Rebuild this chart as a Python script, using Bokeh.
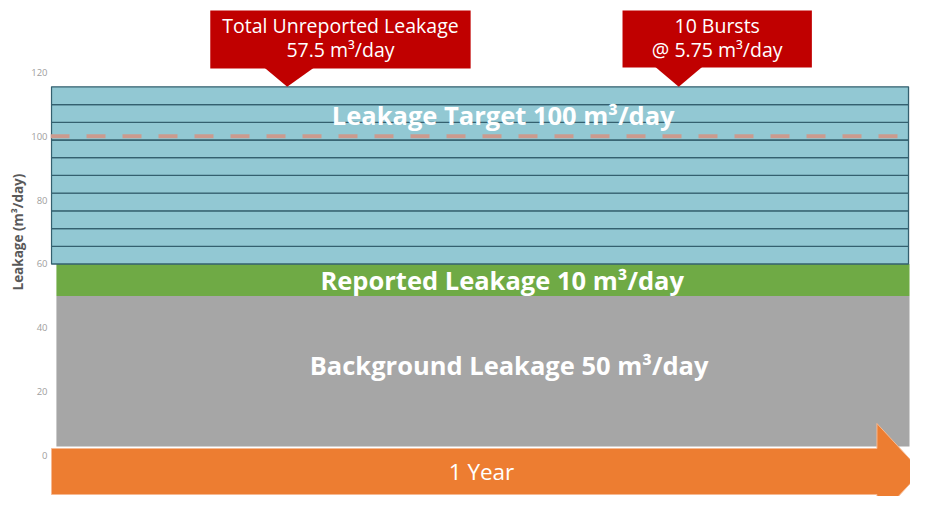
from bokeh.plotting import figure
from bokeh.models import Range1d, FixedTicker, Span, Title
from bokeh.core.properties import value
from bokeh.embed import file_html
from bokeh.resources import INLINE

# ---------------- data ----------------
background_leakage = 50.0          # m3/day (top of grey block)
reported_leakage = 10.0            # m3/day (green block)
burst_sizes = [5.55, 5.55, 5.55, 5.55, 5.55, 5.55, 5.55, 5.55, 5.55, 5.55]  # blue stripes
leakage_target = 100.0
y_ticks = [0, 20, 40, 60, 80, 100, 120]
block_labels = ["Background Leakage 50 m³/day", "Reported Leakage 10 m³/day",
                "Leakage Target 100 m³/day"]
callout_titles = ["Total Unreported Leakage", "10 Bursts"]
callout_values = ["57.5 m³/day", "@ 5.75 m³/day"]
period_label = "1 Year"
y_title = "Leakage (m³/day)"

# ---------------- layout ----------------
W, H, LEFT = 910, 496, 50
PX_X = 869.0      # px per year
PX_Y = 3.1917     # px per m3/day
IMG_X0, IMG_Y0 = 51.0, 455.0  # picture px of (year 0, value 0)


def xd(px):  # picture px -> year
    return (px - IMG_X0) / PX_X


def yd(py):  # picture px -> value
    return (IMG_Y0 - py) / PX_Y


FONT = "Open Sans"
BLUE, BLUE_LINE = "#92C8D3", "#34606F"
GREEN, GREY, ORANGE, RED = "#6FAA45", "#A6A6A6", "#ED7D31", "#C00000"

p = figure(width=W, height=H, output_backend="svg", toolbar_location=None,
           x_range=Range1d(xd(LEFT), xd(922)),
           y_range=Range1d(yd(H), yd(0)),
           min_border_left=LEFT, min_border_right=0, min_border_top=0,
           min_border_bottom=0, x_axis_location=None)
p.outline_line_color = None
p.xgrid.visible = False
p.ygrid.visible = False
p.background_fill_color = "white"
p.border_fill_color = "white"

ax = p.yaxis[0]
ax.ticker = FixedTicker(ticks=y_ticks)
ax.axis_line_color = None
ax.major_tick_line_color = None
ax.minor_tick_line_color = None
ax.major_tick_out = 0
ax.major_label_standoff = 3
ax.major_label_text_font = FONT
ax.major_label_text_font_size = "9.5px"
ax.major_label_text_color = "#A0A0A0"

p.add_layout(Title(text=y_title, align="left", offset=206, standoff=4,
                   text_font=FONT, text_font_style="bold", text_font_size="13.5px",
                   text_color="#595959"), "left")

# ---------------- blocks ----------------
base = yd(446)
inset_l, inset_r = xd(56), xd(921)
p.quad(left=[inset_l], right=[inset_r], bottom=[base], top=[background_leakage],
       fill_color=GREY, line_color=None)
reported_top = background_leakage + reported_leakage
p.quad(left=[inset_l], right=[inset_r], bottom=[background_leakage], top=[reported_top],
       fill_color=GREEN, line_color=None)

bottoms, tops = [], []
acc = reported_top
for s in burst_sizes:
    bottoms.append(acc)
    acc += s
    tops.append(acc)
unreported_top = acc
n = len(burst_sizes)
p.quad(left=[0.0] * n, right=[xd(920)] * n, bottom=bottoms, top=tops,
       fill_color=BLUE, line_color=BLUE_LINE, line_width=1.3)

p.add_layout(Span(location=leakage_target, dimension="width", line_color="#CB9A8E",
                  line_width=4, line_dash="19 17"))

# ---------------- arrow (1 year) ----------------
a_top, a_bot = yd(448), yd(494)
a_mid = (a_top + a_bot) / 2
h_half = yd(423) - a_mid
x_body = xd(888)
x_tip = xd(933)
p.patch(x=[0, x_body, x_body, x_tip, x_body, x_body, 0],
        y=[a_top, a_top, a_mid + h_half, a_mid, a_mid - h_half, a_bot, a_bot],
        fill_color=ORANGE, line_color="#F6B992", line_width=1)

# ---------------- block labels ----------------
p.text(x=[xd(515), xd(508), xd(509)],
       y=[yd(364), (background_leakage + reported_top) / 2, yd(114)],
       text=block_labels, text_color="white", text_font=value(FONT),
       text_font_style="bold", text_font_size="25.5px",
       text_align="center", text_baseline="middle")
p.text(x=[xd(487)], y=[a_mid], text=[period_label], text_color="white",
       text_font=value(FONT), text_font_size="22.5px",
       text_align="center", text_baseline="middle")

# ---------------- callouts ----------------
boxes = [(212, 476, 10, 68, 290, 267, 317), (630, 822, 10, 67, 687, 663, 711)]
for (l, r, t, b, tipx, bl, br), title, val in zip(boxes, callout_titles, callout_values):
    p.quad(left=[xd(l)], right=[xd(r)], top=[yd(t)], bottom=[yd(b)],
           fill_color=RED, line_color=None)
    p.patch(x=[xd(bl), xd(tipx), xd(br)], y=[yd(b) + 0.2, unreported_top, yd(b) + 0.2],
            fill_color=RED, line_color=None)
    cx = xd((l + r) / 2)
    p.text(x=[cx, cx], y=[yd(25), yd(49)], text=[title, val], text_color="white",
           text_font=value(FONT), text_font_size="19.5px",
           text_align="center", text_baseline="middle")

open("out.html", "w").write(file_html(p, INLINE))
